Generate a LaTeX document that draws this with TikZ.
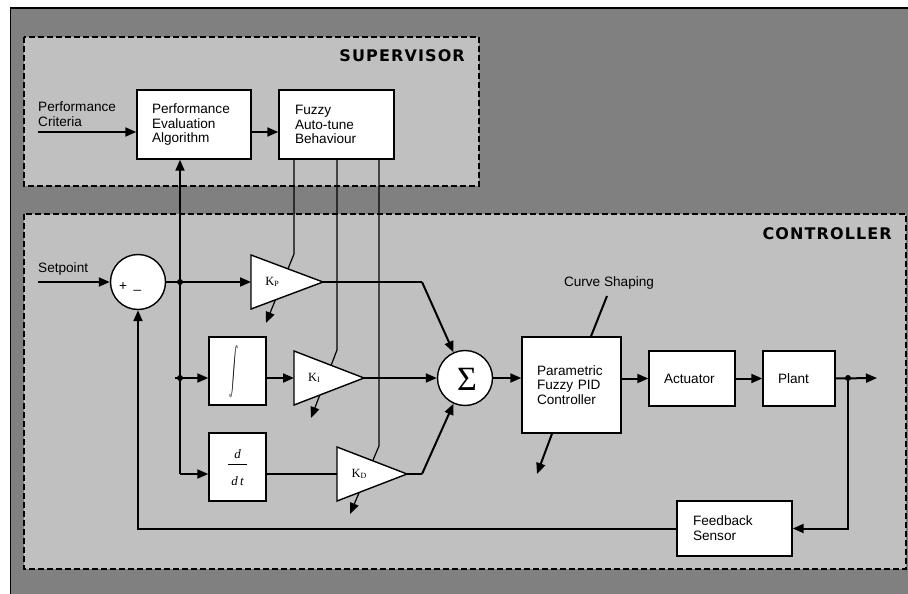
\documentclass[tikz,border=0pt]{standalone}
\usepackage{fontspec}
\setmainfont{Liberation Sans}
\newfontfamily\serif{Liberation Serif}
\newfontfamily\titlefont[LetterSpace=7]{DejaVu Sans}
\usetikzlibrary{arrows.meta}
\definecolor{darkbg}{HTML}{808080}
\definecolor{lightbg}{HTML}{C0C0C0}
\newcommand\gsub[1]{\raisebox{-1.4pt}{\fontsize{8}{8}\selectfont #1}}
\begin{document}
\begin{tikzpicture}[x=1pt,y=-1pt,
  lbl/.style={font=\fontsize{13.6}{14.8}\selectfont, align=left, inner sep=0pt},
  blk/.style={draw, line width=1.4pt, fill=white, font=\fontsize{13.6}{14.8}\selectfont, align=left, inner ysep=0pt},
  sqblk/.style={draw, line width=1.4pt, fill=white, minimum width=57pt, minimum height=68pt, inner sep=0pt},
  circ/.style={draw, circle, line width=1.4pt, fill=white, minimum size=55pt, inner sep=0pt},
  tri/.style={draw, line width=1.4pt, fill=white, line join=miter},
  gainlbl/.style={font=\serif\fontsize{12.5}{12.5}\selectfont, inner sep=0pt},
  dlbl/.style={font=\serif\itshape\fontsize{13}{13}\selectfont, inner sep=0pt},
  zone/.style={draw, line width=2pt, fill=lightbg, dash pattern=on 6pt off 3pt},
  title/.style={font=\titlefont\bfseries\fontsize{16}{16}\selectfont, inner sep=0pt, anchor=east},
  sig/.style={line width=2pt},
  wire/.style={line width=1.2pt},
  arr/.style={-{Triangle[length=11pt,width=9pt]}},
  dot/.style={fill=black}
]
\useasboundingbox (0,0) rectangle (908,594);
\fill[white] (0,0) rectangle (908,594);
\fill[darkbg] (10,8) rectangle (912,600);
\draw[line width=2pt] (10,8) -- (912,8);
\draw[line width=1.2pt] (10.6,8) -- (10.6,600);

% zones
\path[zone] (24,37) rectangle (479,186);
\path[zone] (24,214) rectangle (906,569);
\node[title] (tsup) at (465,56) {SUPERVISOR};
\node[title] (tctl) at (892,234) {CONTROLLER};

% supervisor blocks
\node[blk, minimum width=114pt, minimum height=69pt, text width=84pt] (pea) at (194,124.5) {Performance\\Evaluation\\Algorithm};
\node[blk, minimum width=115pt, minimum height=69pt, text width=83pt] (fat) at (336.5,124.5) {Fuzzy\\Auto-tune\\Behaviour};
\node[lbl, anchor=west] (pc) at (38,114.5) {Performance\\Criteria};
\draw[sig,arr] (pc.west |- 0,132) -- (pea.west |- 0,132);
\draw[sig,arr] (pea.east |- 0,132) -- (fat.west |- 0,132);

% adjuster lines (behind the gains)
\draw[wire,arr] (fat.south -| 294,0) -- (294,254) -- (266,323);
\draw[wire,arr] (fat.south -| 337,0) -- (337,350) -- (311,418);
\draw[wire,arr] (fat.south -| 379,0) -- (379,446) -- (350,514);

% gains
\path[tri] (251,255) -- (323,282) -- (251,309) -- cycle;
\path[tri] (294,351) -- (364,378) -- (294,405) -- cycle;
\path[tri] (337,447) -- (407,474) -- (337,501) -- cycle;
\coordinate (kpL) at (251,282); \coordinate (kpR) at (323,282);
\coordinate (kiL) at (294,378); \coordinate (kiR) at (364,378);
\coordinate (kdL) at (337,474); \coordinate (kdR) at (407,474);
\node[gainlbl] (kp) at (272,282) {K\gsub{P}};
\node[gainlbl] (ki) at (314,378) {K\gsub{I}};
\node[gainlbl] (kd) at (359,474) {K\gsub{D}};

% controller blocks
\node[circ] (sum) at (138,282) {};
\node[lbl] (plus) at (123,287) {+};
\node[lbl] (minus) at (137.5,290) {\_};
\node[circ] (sig) at (465,378) {};
\node[font=\serif\fontsize{34}{34}\selectfont, inner sep=0pt] (sigma) at (467,379) {Σ};
\node[sqblk] (integ) at (237.5,371) {};
\node[inner sep=0pt] (intsym) at (234,372) {\resizebox{9pt}{32pt}{$\displaystyle\int$}};
\node[sqblk] (dt) at (237.5,467) {};
\node[dlbl] (dnum) at (237.5,454) {d};
\node[dlbl] (dden) at (237.5,481) {d\,t};
\draw[line width=1pt] (228,464) -- (247,464);
\node[blk, minimum width=99pt, minimum height=96pt, text width=69pt] (para) at (571.5,385) {Parametric\\Fuzzy PID\\Controller};
\node[blk, minimum width=86pt, minimum height=55pt, text width=56pt] (act) at (692,378.5) {Actuator};
\node[blk, minimum width=72pt, minimum height=55pt, text width=42pt] (plant) at (799,378.5) {Plant};
\node[blk, minimum width=115pt, minimum height=55pt, text width=83pt] (fb) at (734.5,528.5) {Feedback\\Sensor};
\node[lbl] (cs) at (609,283) {Curve Shaping};
\node[lbl, anchor=west] (sp) at (38,269) {Setpoint};

% junctions
\coordinate (j1) at (180,282);
\coordinate (j2) at (180,378);
\coordinate (jb) at (180,474);
\coordinate (jo) at (848,378);
\coordinate (out) at (877,378);
\coordinate (kpm) at (422,282);
\coordinate (kdm) at (422,474);
\coordinate (csb) at (607,296);
\coordinate (pdo) at (537,474);

% signals
\draw[sig,arr] (sp.west |- 0,282) -- (sum.west);
\draw[sig,arr] (sum.east) -- (kpL);
\draw[sig,arr] (jb) -- (pea.south -| jb);
\draw[sig,arr] (jb) -- (dt.west |- jb);
\draw[sig,arr] ([xshift=-5pt]j2) -- (integ.west |- j2);
\draw[sig,arr] (integ.east |- j2) -- (kiL);
\draw[sig,arr] (kiR) -- (sig.west);
\draw[wire] (dt.east |- jb) -- (kdL);
\draw[wire] (kpR) -- (kpm);
\draw[sig,arr] (kpm) -- (sig);
\draw[wire] (kdR) -- (kdm);
\draw[sig,arr] (kdm) -- (sig);
\draw[sig,arr] (sig.east) -- (para.west |- sig.east);
\draw[sig,arr] (para.east |- act.west) -- (act.west);
\draw[sig,arr] (act.east) -- (plant.west);
\draw[sig,arr] (plant.east) -- (out);
\draw[sig,arr] (jo) |- (fb.east);
\draw[sig,arr] (fb.west) -| (sum.south);
\draw[sig] (csb) -- (para.north -| 591,0);
\draw[sig,arr] (para.south -| 552,0) -- (pdo);

\foreach \j in {j1,j2,jo} \fill[dot] (\j) circle (3pt);
\end{tikzpicture}
\end{document}
